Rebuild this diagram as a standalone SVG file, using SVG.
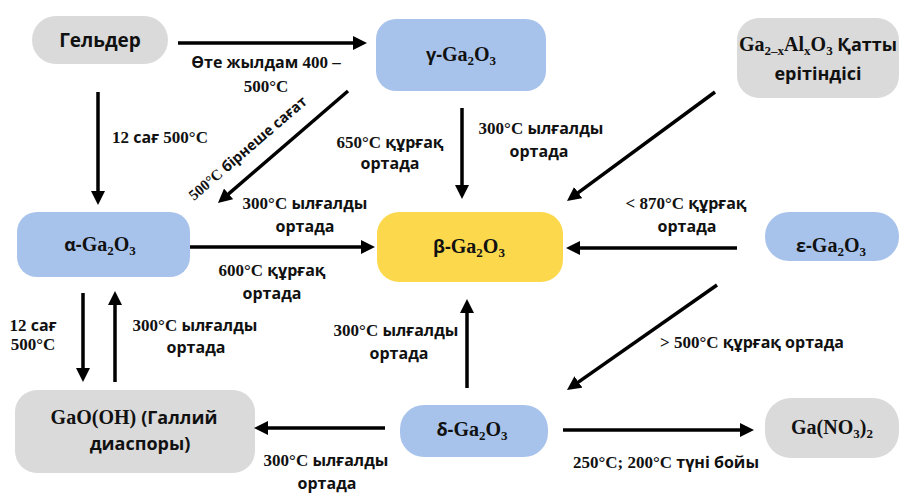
<svg xmlns="http://www.w3.org/2000/svg" width="899" height="493" viewBox="0 0 899 493">
<style>
.gray{fill:#dadada}
.blue{fill:#a8c3eb}
.yel{fill:#fcd94c}
text{font-family:"Liberation Serif","Times New Roman",serif;font-weight:bold;fill:#111;text-anchor:middle}
.c{font-family:"Open Sans","Noto Sans","DejaVu Sans",sans-serif}
.lbl text{font-size:17px}
.lbl .c{font-size:16px}
text.nd{font-size:20px}
.nd .c{font-size:18px}
.nd .s{font-size:13px}
.conn line{stroke:#000;stroke-width:3.5;marker-end:url(#ah)}
</style>
<defs>
<marker id="ah" markerUnits="userSpaceOnUse" markerWidth="14" markerHeight="14" refX="8" refY="7" orient="auto">
<path d="M0,0 L14,7 L0,14 z" fill="#000"/>
</marker>
</defs>
<rect width="899" height="493" fill="#fff"/>

<g id="n-gelder"><rect class="gray" x="32" y="16" width="136" height="48" rx="24"/><text x="100" y="47" font-size="19"><tspan class="c">Гельдер</tspan></text></g>
<g id="n-gamma"><rect class="blue" x="376" y="19" width="170" height="72" rx="20"/><text class="nd" x="461" y="61"><tspan class="c">γ-</tspan>Ga<tspan class="s" dy="4">2</tspan><tspan dy="-4">O</tspan><tspan class="s" dy="4">3</tspan></text></g>
<g id="n-alga"><rect class="gray" x="737" y="18" width="162" height="80" rx="22"/><text class="nd" x="818" y="51">Ga<tspan class="s" dy="4">2–x</tspan><tspan dy="-4">Al</tspan><tspan class="s" dy="4">x</tspan><tspan dy="-4">O</tspan><tspan class="s" dy="4">3</tspan><tspan dy="-4" class="c"> Қатты</tspan></text><text class="nd" x="818" y="80"><tspan class="c">ерітіндісі</tspan></text></g>
<g id="n-alpha"><rect class="blue" x="17" y="212" width="173" height="65" rx="20"/><text class="nd" x="100" y="251"><tspan class="c">α-</tspan>Ga<tspan class="s" dy="4">2</tspan><tspan dy="-4">O</tspan><tspan class="s" dy="4">3</tspan></text></g>
<g id="n-beta"><rect class="yel" x="377" y="212" width="186" height="70" rx="22"/><text class="nd" x="469" y="253"><tspan class="c">β-</tspan>Ga<tspan class="s" dy="4">2</tspan><tspan dy="-4">O</tspan><tspan class="s" dy="4">3</tspan></text></g>
<g id="n-eps"><rect class="blue" x="765" y="212" width="134" height="49" rx="24"/><text class="nd" x="831" y="252"><tspan class="c">ε-</tspan>Ga<tspan class="s" dy="4">2</tspan><tspan dy="-4">O</tspan><tspan class="s" dy="4">3</tspan></text></g>
<g id="n-gaooh"><rect class="gray" x="15" y="390" width="240" height="83" rx="22"/><text class="nd" x="134" y="424">GaO(OH) <tspan class="c">(Галлий</tspan></text><text class="nd" x="140" y="450"><tspan class="c">диаспоры)</tspan></text></g>
<g id="n-delta"><rect class="blue" x="400" y="405" width="148" height="52" rx="24"/><text class="nd" x="472" y="436"><tspan class="c">δ-</tspan>Ga<tspan class="s" dy="4">2</tspan><tspan dy="-4">O</tspan><tspan class="s" dy="4">3</tspan></text></g>
<g id="n-nitrate"><rect class="gray" x="765" y="398" width="134" height="60" rx="26"/><text class="nd" x="832" y="434">Ga(NO<tspan class="s" dy="4">3</tspan><tspan dy="-4">)</tspan><tspan class="s" dy="4">2</tspan></text></g>

<g id="connectors" class="conn">
<line x1="178" y1="43" x2="361" y2="43"/>
<line x1="98" y1="92" x2="98" y2="199"/>
<line x1="348" y1="91" x2="222.5" y2="199.1"/>
<line x1="462" y1="108" x2="462" y2="193"/>
<line x1="715" y1="92" x2="571.8" y2="197.4"/>
<line x1="190" y1="247" x2="369" y2="247"/>
<line x1="737" y1="248" x2="572" y2="248"/>
<line x1="717" y1="285" x2="571.9" y2="386.6"/>
<line x1="83" y1="293" x2="83" y2="376"/>
<line x1="115" y1="382" x2="115" y2="297"/>
<line x1="467" y1="388" x2="467" y2="305"/>
<line x1="385" y1="428" x2="260" y2="428"/>
<line x1="563" y1="430" x2="748" y2="430"/>
</g>

<g id="labels">
<g class="lbl">
<text x="266" y="68"><tspan class="c">Өте жылдам</tspan> 400 –</text>
<text x="266" y="92">500°C</text>
<text x="160" y="143">12 <tspan class="c">сағ</tspan> 500°C</text>
<text x="390" y="148">650°C <tspan class="c">құрғақ</tspan></text>
<text x="390" y="169"><tspan class="c">ортада</tspan></text>
<text x="541" y="134">300°C <tspan class="c">ылғалды</tspan></text>
<text x="539" y="157"><tspan class="c">ортада</tspan></text>
<text x="305" y="209">300°C <tspan class="c">ылғалды</tspan></text>
<text x="305" y="232"><tspan class="c">ортада</tspan></text>
<text x="272" y="276">600°C <tspan class="c">құрғақ</tspan></text>
<text x="272" y="299"><tspan class="c">ортада</tspan></text>
<text x="686" y="209">&lt; 870°C <tspan class="c">құрғақ</tspan></text>
<text x="687" y="232"><tspan class="c">ортада</tspan></text>
<text x="752" y="348">&gt; 500°C <tspan class="c">құрғақ ортада</tspan></text>
<text x="33" y="331">12 <tspan class="c">сағ</tspan></text>
<text x="33" y="350">500°C</text>
<text x="195" y="331">300°C <tspan class="c">ылғалды</tspan></text>
<text x="196" y="353"><tspan class="c">ортада</tspan></text>
<text x="396" y="336">300°C <tspan class="c">ылғалды</tspan></text>
<text x="399" y="359"><tspan class="c">ортада</tspan></text>
<text x="326" y="466">300°C <tspan class="c">ылғалды</tspan></text>
<text x="327" y="489"><tspan class="c">ортада</tspan></text>
<text x="666" y="468">250°C; 200°C <tspan class="c">түні бойы</tspan></text>
</g>
<text x="251" y="152" font-size="15" transform="rotate(-40.7 251 152)">500°C <tspan class="c" font-size="14.5">бірнеше сағат</tspan></text>
</g>
</svg>
